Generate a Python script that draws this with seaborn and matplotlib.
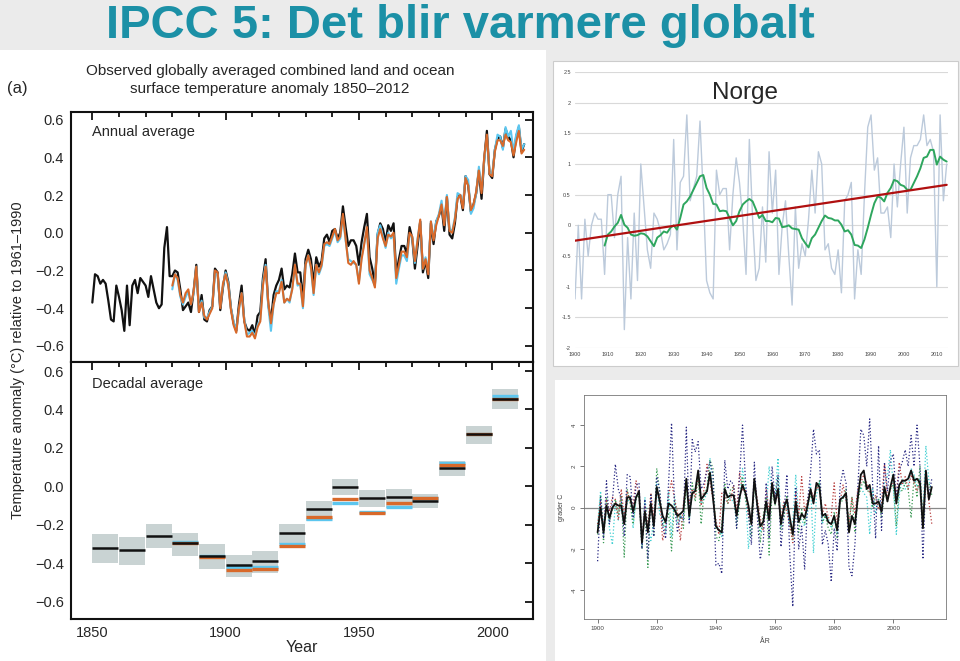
import numpy as np
import pandas as pd
import seaborn as sns
import matplotlib
matplotlib.use("Agg")
import matplotlib.pyplot as plt
from matplotlib.patches import Rectangle
from matplotlib.ticker import FixedLocator, MultipleLocator

# ---------------- global annual anomalies (IPCC AR5 fig a) ----------------
had_years = list(range(1850, 2013))
hadcrut = [
    -0.37, -0.22, -0.23, -0.27, -0.25, -0.27, -0.36, -0.46, -0.47, -0.28,
    -0.34, -0.41, -0.52, -0.28, -0.49, -0.28, -0.25, -0.32, -0.24, -0.26,
    -0.28, -0.34, -0.23, -0.30, -0.37, -0.40, -0.38, -0.08, 0.03, -0.23,
    -0.23, -0.20, -0.21, -0.30, -0.41, -0.39, -0.37, -0.42, -0.31, -0.17,
    -0.42, -0.33, -0.46, -0.47, -0.41, -0.39, -0.19, -0.21, -0.41, -0.29,
    -0.20, -0.26, -0.40, -0.48, -0.52, -0.38, -0.28, -0.47, -0.51, -0.52,
    -0.49, -0.54, -0.44, -0.42, -0.24, -0.14, -0.38, -0.47, -0.33, -0.28,
    -0.25, -0.19, -0.30, -0.28, -0.29, -0.22, -0.11, -0.21, -0.21, -0.35,
    -0.14, -0.09, -0.14, -0.27, -0.13, -0.18, -0.15, -0.03, -0.01, -0.05,
    0.01, 0.02, -0.03, 0.00, 0.14, 0.03, -0.07, -0.04, -0.04, -0.07,
    -0.17, -0.05, 0.03, 0.10, -0.13, -0.19, -0.27, -0.01, 0.05, 0.02,
    -0.05, 0.04, 0.01, 0.05, -0.22, -0.14, -0.07, -0.07, -0.11, 0.03,
    -0.03, -0.19, -0.07, 0.06, -0.21, -0.15, -0.24, 0.05, -0.06, 0.06,
    0.09, 0.14, 0.01, 0.19, -0.01, -0.03, 0.05, 0.19, 0.20, 0.12,
    0.30, 0.25, 0.11, 0.15, 0.21, 0.33, 0.18, 0.39, 0.54, 0.31,
    0.29, 0.44, 0.50, 0.51, 0.45, 0.55, 0.51, 0.49, 0.40, 0.51,
    0.56, 0.43, 0.47,
]
other_years = list(range(1880, 2013))
noaa = [
    -0.28, -0.22, -0.24, -0.33, -0.37, -0.32, -0.30, -0.38, -0.31, -0.18,
    -0.42, -0.37, -0.44, -0.46, -0.43, -0.40, -0.20, -0.21, -0.40, -0.27,
    -0.22, -0.28, -0.41, -0.49, -0.53, -0.40, -0.32, -0.47, -0.55, -0.55,
    -0.53, -0.56, -0.50, -0.47, -0.28, -0.18, -0.37, -0.48, -0.38, -0.32,
    -0.32, -0.26, -0.37, -0.35, -0.36, -0.30, -0.17, -0.27, -0.27, -0.39,
    -0.17, -0.12, -0.18, -0.32, -0.17, -0.21, -0.17, -0.06, -0.05, -0.06,
    -0.02, 0.02, -0.04, -0.02, 0.10, -0.03, -0.16, -0.17, -0.15, -0.17,
    -0.27, -0.14, -0.06, 0.03, -0.20, -0.24, -0.29, -0.03, 0.02, -0.03,
    -0.07, -0.01, -0.02, 0.00, -0.24, -0.17, -0.10, -0.10, -0.13, 0.00,
    -0.02, -0.15, -0.04, 0.07, -0.19, -0.14, -0.22, 0.06, -0.04, 0.04,
    0.09, 0.15, 0.04, 0.19, 0.01, 0.00, 0.07, 0.18, 0.20, 0.13,
    0.29, 0.25, 0.12, 0.15, 0.22, 0.33, 0.21, 0.40, 0.52, 0.31,
    0.30, 0.43, 0.49, 0.49, 0.46, 0.52, 0.49, 0.48, 0.41, 0.48,
    0.54, 0.42, 0.44,
]
giss = [
    -0.30, -0.22, -0.25, -0.34, -0.38, -0.34, -0.31, -0.38, -0.32, -0.18,
    -0.41, -0.36, -0.45, -0.45, -0.42, -0.39, -0.22, -0.22, -0.39, -0.28,
    -0.21, -0.27, -0.40, -0.47, -0.52, -0.41, -0.32, -0.46, -0.54, -0.53,
    -0.52, -0.55, -0.49, -0.46, -0.26, -0.17, -0.39, -0.52, -0.38, -0.31,
    -0.31, -0.25, -0.37, -0.35, -0.37, -0.29, -0.18, -0.28, -0.27, -0.40,
    -0.17, -0.12, -0.19, -0.33, -0.17, -0.22, -0.18, -0.07, -0.06, -0.07,
    -0.03, 0.01, -0.05, -0.03, 0.09, -0.04, -0.14, -0.15, -0.16, -0.17,
    -0.26, -0.13, -0.05, 0.02, -0.22, -0.25, -0.28, 0.00, 0.04, -0.02,
    -0.08, 0.00, -0.03, -0.01, -0.27, -0.19, -0.12, -0.12, -0.15, -0.01,
    -0.02, -0.16, -0.03, 0.06, -0.19, -0.13, -0.21, 0.06, -0.03, 0.06,
    0.10, 0.17, 0.05, 0.20, 0.02, 0.01, 0.08, 0.21, 0.20, 0.15,
    0.30, 0.28, 0.10, 0.13, 0.21, 0.35, 0.23, 0.38, 0.51, 0.32,
    0.31, 0.44, 0.52, 0.51, 0.44, 0.56, 0.51, 0.54, 0.43, 0.52,
    0.57, 0.44, 0.47,
]

# ---------------- decadal means ----------------
decades = [1850, 1860, 1870, 1880, 1890, 1900, 1910, 1920,
           1930, 1940, 1950, 1960, 1970, 1980, 1990, 2000]
dec_low = [-0.40, -0.41, -0.32, -0.36, -0.43, -0.47, -0.45, -0.30,
           -0.18, -0.045, -0.105, -0.114, -0.11, 0.053, 0.222, 0.403]
dec_high = [-0.247, -0.266, -0.197, -0.24, -0.30, -0.355, -0.338, -0.195,
            -0.074, 0.038, -0.021, -0.016, -0.041, 0.133, 0.314, 0.505]
dec_had = [-0.319, -0.333, -0.257, -0.295, -0.36, -0.41, -0.386, -0.241,
           -0.116, -0.002, -0.062, -0.053, -0.076, 0.095, 0.27, 0.452]
dec_decades2 = decades[3:]
dec_giss = [-0.29, -0.36, -0.42, -0.42, -0.30, -0.171, -0.084, -0.135,
            -0.105, -0.06, 0.124, 0.27, 0.472]
dec_noaa = [-0.295, -0.369, -0.433, -0.429, -0.312, -0.16, -0.064, -0.136,
            -0.086, -0.062, 0.11, 0.27, 0.452]

# ---------------- Norway ----------------
nor_years = list(range(1900, 2014))
norge = [
    -1.2, 0.0, -1.2, 0.1, -0.5, 0.0, 0.2, 0.1, 0.1, -0.8,
    0.5, 0.5, -0.2, 0.5, 0.8, -1.7, -0.2, -1.2, 0.2, -0.9,
    1.0, 0.3, -0.4, -0.7, 0.2, 0.1, -0.1, -0.4, -0.3, -0.15,
    1.4, -0.4, 0.7, 0.8, 1.8, 0.4, 0.6, 0.8, 1.7, 0.5,
    -0.9, -1.1, -1.2, 0.9, 0.5, 0.6, 0.6, -0.4, 0.5, 1.1,
    0.7, 0.1, -0.8, 1.4, 0.1, -0.9, -0.7, 0.3, -0.6, 1.2,
    0.2, 0.9, -0.8, 0.0, 0.4, -0.5, -1.3, 0.3, -0.7, -0.3,
    -0.5, 0.1, 0.9, 0.2, 1.2, 1.0, -0.4, -0.3, -0.7, -0.8,
    -0.4, -1.1, 0.4, 0.5, 0.7, -1.2, -0.4, -0.8, 0.5, 1.6,
    1.8, 0.9, 1.1, 0.2, 0.2, 0.3, -0.2, 1.0, 0.3, 1.0,
    1.6, 0.2, 1.1, 1.3, 1.3, 1.4, 1.8, 1.3, 1.4, 1.2,
    -1.0, 1.8, 0.4, 1.0,
]
smooth_years = list(range(1909, 2014))
norge_10yr = [
    -0.33,
    -0.15, -0.10, -0.02, 0.04, 0.17, 0.01, -0.04, -0.15, -0.17, -0.16,
    -0.13, -0.14, -0.18, -0.26, -0.34, -0.20, -0.16, -0.10, -0.12, -0.04,
    0.00, -0.07, 0.12, 0.34, 0.39, 0.47, 0.58, 0.69, 0.80, 0.82,
    0.61, 0.50, 0.35, 0.34, 0.23, 0.24, 0.23, 0.12, 0.00, 0.07,
    0.23, 0.34, 0.39, 0.43, 0.39, 0.26, 0.12, 0.17, 0.07, 0.07,
    0.05, 0.12, 0.11, -0.03, -0.02, 0.00, -0.05, -0.06, -0.07, -0.21,
    -0.29, -0.36, -0.21, -0.15, -0.04, 0.07, 0.16, 0.12, 0.11, 0.08,
    0.08, 0.01, -0.10, -0.08, -0.15, -0.32, -0.33, -0.37, -0.23, -0.04,
    0.17, 0.36, 0.47, 0.45, 0.39, 0.53, 0.61, 0.74, 0.72, 0.66,
    0.64, 0.58, 0.58, 0.69, 0.80, 0.93, 1.10, 1.12, 1.23, 1.23,
    0.99, 1.12, 1.07, 1.04,
]
trend_years = [1900, 2013]
trend_vals = [-0.25, 0.66]

# regional series (dotted, lower right)
reg_navy = [
    -2.6, 0.5, -1.5, 1.3, -0.8, 0.3, 2.1, 0.9, 0.4, -1.4,
    1.6, 1.5, -0.5, 1.1, 1.2, -2.0, 0.4, -2.5, 0.6, -1.4,
    1.5, 0.8, -0.9, -1.5, 1.2, 4.1, 0.2, -1.2, -0.4, -0.6,
    3.9, -0.8, 3.3, 2.7, 3.2, 0.9, 1.2, 1.8, 2.2, 1.6,
    -2.8, -2.7, -3.2, 2.3, 0.9, 1.3, 1.1, -1.0, 1.5, 4.0,
    1.3, -0.3, -1.8, 2.2, -0.4, -2.5, -1.7, 1.2, -1.5, 2.0,
    0.4, 1.6, -1.9, -0.3, 1.6, -2.3, -4.8, 1.0, -2.0, -0.9,
    -3.0, 0.3, 1.7, 3.8, 2.6, 2.8, -1.8, -1.1, -1.8, -3.6,
    -1.0, -2.1, 1.1, 1.8, 1.2, -2.9, -3.3, -1.8, 1.0, 3.8,
    3.5, 2.0, 4.3, 1.1, -1.5, 3.0, -1.1, 2.2, 0.8, 2.3,
    2.6, 0.4, 1.8, 2.2, 2.8, 2.0, 3.5, 2.0, 4.0, 2.0,
    -2.5, 1.6, 0.6, 1.4,
]
reg_red = [
    -0.8, 0.3, -1.0, 0.4, -0.2, 0.5, 0.4, -0.6, 0.9, -0.5,
    0.8, 0.3, 0.2, 1.3, 0.6, -1.5, 0.1, -0.9, 0.7, -0.5,
    0.9, 0.5, -1.6, -0.9, 0.6, 1.3, 0.4, -0.2, -1.6, 0.2,
    1.2, 0.2, 0.9, 0.5, 1.6, 0.1, 0.9, 2.1, 1.2, 0.4,
    -0.6, -1.3, 0.7, 0.6, 0.2, 0.4, 1.1, -0.2, 1.7, 0.8,
    0.9, -0.4, -0.6, 1.3, 0.4, -0.5, -1.1, 0.9, -0.2, 1.0,
    0.6, 0.5, -0.5, 0.3, -0.2, -0.9, -1.7, 0.8, -0.4, 1.5,
    -0.2, 0.4, 0.9, 0.5, 1.0, 0.9, -0.3, 0.2, -0.5, -0.4,
    1.2, -0.7, 0.3, 1.1, 0.4, -0.8, 0.5, -0.3, 0.9, 1.2,
    1.6, 1.2, 0.7, 0.3, 0.6, -0.1, 0.2, 2.1, 0.5, 0.9,
    1.4, 0.6, 2.2, 1.1, 1.5, 0.9, 1.6, 1.2, 0.8, 1.3,
    -0.6, 1.5, 0.3, -0.8,
]
reg_green = [
    -1.3, 0.6, -1.7, 0.5, -0.7, -0.1, 0.4, -0.3, 0.6, -2.4,
    0.9, 0.2, -0.8, 0.4, 0.6, -2.0, -0.1, -2.9, 0.7, -1.4,
    1.9, 0.8, -0.9, -0.6, -0.3, -2.1, 0.3, -0.5, -0.4, -1.0,
    1.1, -0.6, 1.2, 0.3, 1.5, -0.8, 0.7, 0.9, 2.3, 1.9,
    -1.4, -1.6, -0.8, 1.2, 0.2, 0.9, 1.0, -1.0, 0.3, 1.5,
    0.4, -0.3, -1.4, 1.0, 0.2, -1.7, -0.4, 0.5, -2.3, 0.8,
    0.1, 1.5, -1.1, -0.5, 0.6, -0.8, -1.6, 0.1, -1.2, -0.1,
    -0.8, 0.2, 0.6, 0.3, 0.9, 1.3, -0.7, -0.4, -1.0, -1.3,
    -0.2, -1.5, 0.2, 0.4, 0.9, -0.9, 0.5, -1.2, 0.3, 1.0,
    1.3, 0.8, 0.8, 0.0, 0.5, 0.4, -0.5, 0.8, 0.3, 0.9,
    1.1, -0.9, 1.0, 0.8, 1.2, 0.9, -0.5, 1.5, 0.5, 2.0,
    -0.9, 1.1, 1.2, 0.6,
]
reg_cyan = [
    -0.9, 0.8, -0.9, 0.2, -1.0, -1.8, 0.2, -0.6, 0.3, -0.4,
    0.2, 0.6, -1.0, 0.5, 0.7, -1.9, 0.5, -1.0, -1.6, -0.6,
    1.2, -0.3, -0.5, -1.2, 0.8, -1.4, 0.6, -0.8, -0.4, -0.5,
    1.3, -0.6, 0.8, 0.9, 1.7, 0.2, 0.4, 0.7, 2.4, 0.4,
    -0.9, -1.0, -1.4, 0.4, 0.6, 0.4, 0.3, -0.6, 0.2, 1.9,
    0.9, -2.0, -0.6, 1.3, 0.2, -1.2, -0.8, -0.1, 2.0, 0.6,
    0.5, 2.4, -0.9, 0.3, 0.1, -0.9, -0.7, 1.6, -0.4, -0.6,
    -0.9, -0.3, 1.2, -2.2, 0.6, 1.2, -0.8, -0.3, -0.5, -1.0,
    -0.6, -1.2, 0.3, 0.6, 0.4, -1.0, -0.4, -0.7, 0.6, 1.0,
    0.7, 0.5, -1.3, 0.9, -0.3, 0.4, 0.1, 1.2, 1.5, 2.8,
    1.0, -1.3, 0.6, 1.4, 0.9, 1.0, 1.9, 1.6, 1.0, 1.4,
    -0.4, 3.0, 1.3, 0.8,
]

BLACK = "#111111"
ORANGE = "#d8692a"
BLUE = "#5cc6ef"
TEAL = "#1b90a6"

W, H = 960, 661


def box(x0, y0, x1, y1):
    return [x0 / W, 1 - y1 / H, (x1 - x0) / W, (y1 - y0) / H]


def panel(fig, x0, y0, x1, y1, face="white", edge="none"):
    b = box(x0, y0, x1, y1)
    fig.patches.append(Rectangle((b[0], b[1]), b[2], b[3], transform=fig.transFigure,
                                 facecolor=face, edgecolor=edge, lw=0.8, zorder=-5))


def fmt(v):
    s = "%.1f" % v
    return s.replace("-", "\u2212")


sns.set_style("white")
plt.rcParams["font.family"] = ["Liberation Sans", "DejaVu Sans"]
plt.rcParams["axes.unicode_minus"] = True

fig = plt.figure(figsize=(9.6, 6.61), dpi=100, facecolor="#ebebeb")

# backgrounds
panel(fig, 0, 50, 546, 661)
panel(fig, 553, 61, 958, 366, edge="#cccccc")
panel(fig, 555, 380, 960, 661)

fig.text(460 / W, 1 - 26 / H, "IPCC 5: Det blir varmere globalt", ha="center", va="center",
         fontsize=34, fontweight="bold", color=TEAL,
         family=["Liberation Sans Narrow", "Liberation Sans", "DejaVu Sans"])

fig.text(17 / W, 1 - 88 / H, "(a)", fontsize=12, ha="center", va="center")
fig.text(270 / W, 1 - 80 / H,
         "Observed globally averaged combined land and ocean\nsurface temperature anomaly 1850\u20132012",
         fontsize=11, ha="center", va="center", linespacing=1.3)
fig.text(18 / W, 1 - 360 / H, "Temperature anomaly (\u00b0C) relative to 1961\u20131990",
         fontsize=10.5, rotation=90, ha="center", va="center")

yt = [-0.6, -0.4, -0.2, 0.0, 0.2, 0.4, 0.6]

# annual panel
ax1 = fig.add_axes(box(71, 112, 533, 362))
sns.lineplot(x=had_years, y=hadcrut, color=BLACK, lw=1.6, ax=ax1)
sns.lineplot(x=other_years, y=giss, color=BLUE, lw=1.5, ax=ax1)
sns.lineplot(x=other_years, y=noaa, color=ORANGE, lw=1.5, ax=ax1)
ax1.set_xlim(1842, 2015.3)
ax1.set_ylim(-0.685, 0.64)
ax1.text(1850, 0.533, "Annual average", fontsize=10.5, va="center")

# decadal panel
ax2 = fig.add_axes(box(71, 362, 533, 619))
ax2.bar(decades, np.array(dec_high) - np.array(dec_low), bottom=dec_low, width=9.75,
        align="edge", color="#c9d3d3", lw=0)
ax2.hlines(dec_giss, np.array(dec_decades2), np.array(dec_decades2) + 9.75, color=BLUE, lw=2.4)
ax2.hlines(dec_noaa, np.array(dec_decades2), np.array(dec_decades2) + 9.75, color=ORANGE, lw=2.4)
ax2.hlines(dec_had, np.array(decades), np.array(decades) + 9.75, color=BLACK, lw=1.8)
ax2.set_xlim(1842, 2015.3)
ax2.set_ylim(-0.69, 0.647)
ax2.text(1850, 0.532, "Decadal average", fontsize=10.5, va="center")
ax2.set_xlabel("Year", fontsize=11.5, labelpad=0)

for ax in (ax1, ax2):
    ax.xaxis.set_major_locator(FixedLocator([1850, 1900, 1950, 2000]))
    ax.xaxis.set_minor_locator(MultipleLocator(10))
    ax.set_yticks(yt)
    ax.set_yticklabels([fmt(v) for v in yt])
    ax.tick_params(which="both", direction="in", top=True, right=True, width=1.3,
                   labelsize=10.5, color=BLACK)
    ax.tick_params(which="major", length=6, pad=5)
    ax.tick_params(which="minor", length=3.5)
    ax.set_ylabel("")
    for s in ax.spines.values():
        s.set_linewidth(1.5)
        s.set_color(BLACK)
ax1.tick_params(labelbottom=False)
ax2.set_xticklabels(["1850", "1900", "1950", "2000"])

# Norway panel (top right)
ax3 = fig.add_axes(box(575, 72, 948, 348))
sns.lineplot(x=nor_years, y=norge, color="#bccadb", lw=1.0, ax=ax3)
sns.lineplot(x=smooth_years, y=norge_10yr, color="#2ea65e", lw=1.4, ax=ax3)
sns.lineplot(x=trend_years, y=trend_vals, color="#b01010", lw=1.6, ax=ax3)
ax3.set_xlim(1900, 2013.4)
ax3.set_ylim(-2, 2.5)
ax3.set_yticks(np.arange(-2, 2.51, 0.5))
ax3.set_yticklabels(["-2", "-1.5", "-1", "-0.5", "0", "0.5", "1", "1.5", "2", "2.5"])
ax3.set_xticks(range(1900, 2011, 10))
ax3.grid(axis="y", color="#d9d9d9", lw=0.8)
ax3.set_axisbelow(True)
for s in ax3.spines.values():
    s.set_visible(False)
ax3.tick_params(labelsize=4, colors="#444444", length=0, pad=3)
ax3.text(0.456, 2.157, "Norge", transform=ax3.get_yaxis_transform(), fontsize=17.5,
         ha="center", va="center")
ax3.set_facecolor("white")

# regional panel (bottom right)
ax4 = fig.add_axes(box(584, 395, 946, 619))
ax4.axhline(0, color="#888888", lw=0.9)
for ser, col in ((reg_cyan, "#3fcfd2"), (reg_green, "#3a9a55"),
                 (reg_red, "#b84040"), (reg_navy, "#2a2a84")):
    sns.lineplot(x=nor_years, y=ser, color=col, lw=0.9, ls=":", ax=ax4)
sns.lineplot(x=nor_years, y=norge, color=BLACK, lw=1.3, ax=ax4)
ax4.set_xlim(1895.4, 2017.8)
ax4.set_ylim(-5.4, 5.46)
ax4.set_yticks([-4, -2, 0, 2, 4])
ax4.set_yticklabels(["-4", "-2", "0", "2", "4"], rotation=90, va="center")
ax4.set_xticks(range(1900, 2001, 20))
ax4.tick_params(labelsize=4.5, colors="#444444", length=3, width=0.5, direction="out",
                left=True, bottom=True, pad=2)
ax4.set_xlabel("\u00c5R", fontsize=5, color="#444444", labelpad=5)
ax4.set_ylabel("grader C", fontsize=5, color="#444444", labelpad=5)
for s in ax4.spines.values():
    s.set_color("#777777")
    s.set_linewidth(0.6)

fig.savefig("out.png", dpi=100, facecolor=fig.get_facecolor())
